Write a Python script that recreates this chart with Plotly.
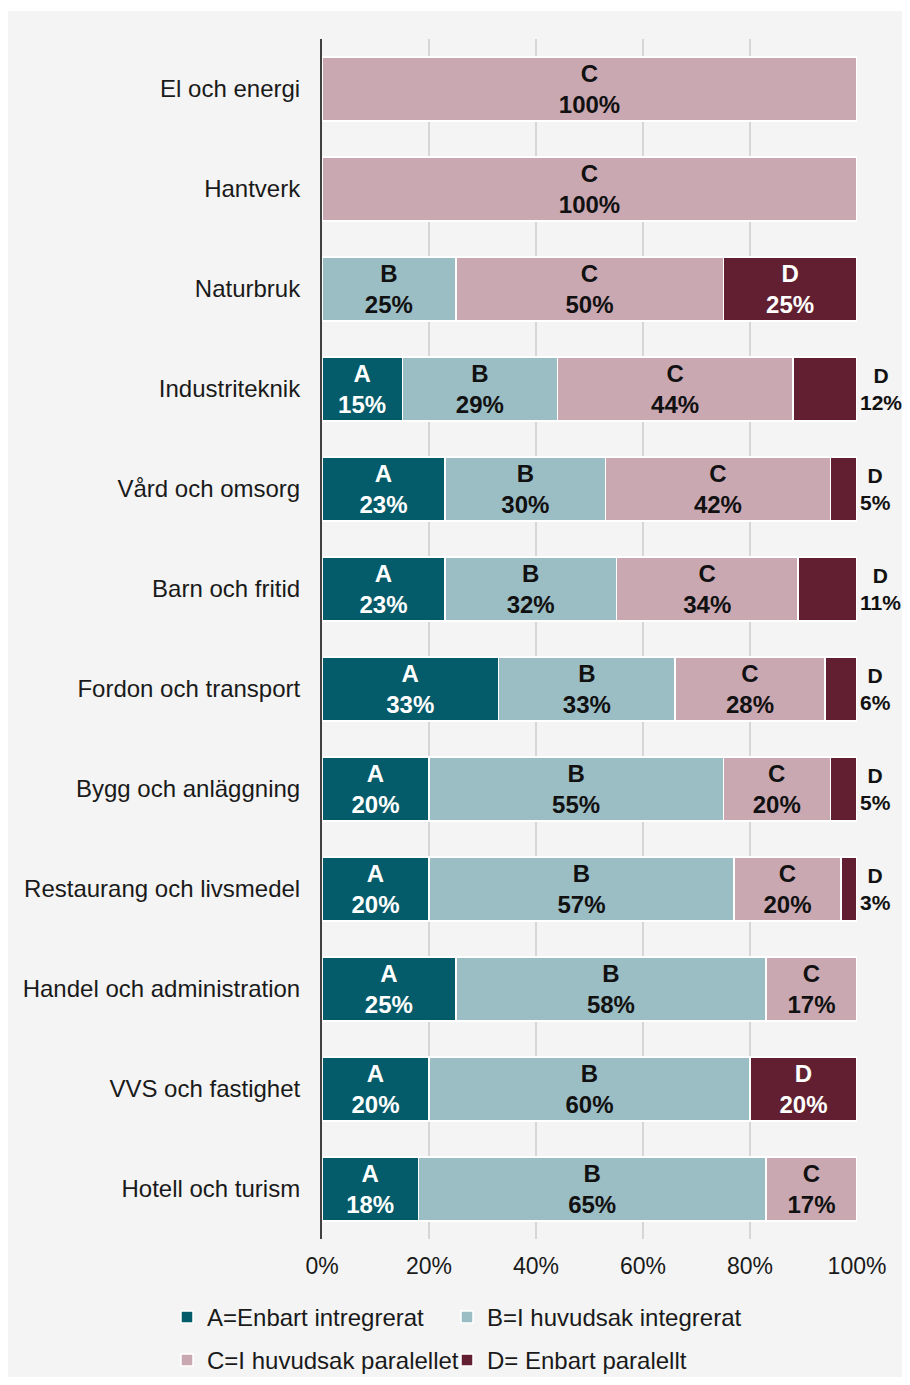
import plotly.graph_objects as go

# Data
categories = [
    'El och energi', 'Hantverk', 'Naturbruk', 'Industriteknik', 'Vård och omsorg',
    'Barn och fritid', 'Fordon och transport', 'Bygg och anläggning',
    'Restaurang och livsmedel', 'Handel och administration', 'VVS och fastighet',
    'Hotell och turism'
]
a_vals = [0, 0, 0, 15, 23, 23, 33, 20, 20, 25, 20, 18]
b_vals = [0, 0, 25, 29, 30, 32, 33, 55, 57, 58, 60, 65]
c_vals = [100, 100, 50, 44, 42, 34, 28, 20, 20, 17, 0, 17]
d_vals = [0, 0, 25, 12, 5, 11, 6, 5, 3, 0, 20, 0]

series_names = [
    'A=Enbart intregrerat', 'B=I huvudsak integrerat',
    'C=I huvudsak paralellet', 'D= Enbart paralellt'
]
letters = ['A', 'B', 'C', 'D']
tick_vals = [0, 20, 40, 60, 80, 100]
tick_text = ['0%', '20%', '40%', '60%', '80%', '100%']

colors = ['#045b6a', '#9bbdc4', '#caa8b1', '#611f31']
text_colors = ['white', '#111111', '#111111', 'white']
legend_ids = ['legend', 'legend2', 'legend3', 'legend4']

FONT = 'Liberation Sans, Arial, sans-serif'

# figure geometry (page adds an 8px body margin on every side)
W, H = 894, 1369
L, T, PW, PH = 314, 31, 535, 1200
BOT = T + PH


def px_x(px):
    return (px - L) / PW


def px_y(py):
    return (BOT - py) / PH


fig = go.Figure()
for vals, name, letter, col, tcol, lg in zip(
        [a_vals, b_vals, c_vals, d_vals], series_names, letters, colors,
        text_colors, legend_ids):
    labels = [f'<b>{letter}<br>{v}%</b>' if v else '' for v in vals]
    if letter == 'D':
        # small D shares are labelled outside the bar end
        pos = ['inside' if v >= 20 else 'outside' for v in vals]
    else:
        pos = 'inside'
    fig.add_trace(go.Bar(
        y=categories, x=vals, name=name, orientation='h', legend=lg,
        marker=dict(color=col, line=dict(color='white', width=1.5)),
        text=labels, textposition=pos, insidetextanchor='middle',
        insidetextfont=dict(color=tcol, size=24, family=FONT),
        outsidetextfont=dict(color='#111111', size=21, family=FONT),
        constraintext='none',
        textangle=0, cliponaxis=False, hoverinfo='skip'
    ))

legend_common = dict(
    orientation='h', xanchor='left', yanchor='top',
    font=dict(size=24, family=FONT, color='#1a1a1a'),
    bgcolor='rgba(0,0,0,0)', itemclick=False
)

fig.update_layout(
    barmode='stack',
    bargap=0.36,
    width=W, height=H,
    margin=dict(l=L, r=W - L - PW, t=T, b=H - BOT, autoexpand=False),
    paper_bgcolor='white',
    plot_bgcolor='rgba(0,0,0,0)',
    font=dict(family=FONT, size=22, color='#1a1a1a'),
    showlegend=True,
    legend=dict(x=px_x(159), y=px_y(1287), **legend_common),
    legend2=dict(x=px_x(439), y=px_y(1287), **legend_common),
    legend3=dict(x=px_x(159), y=px_y(1330), **legend_common),
    legend4=dict(x=px_x(439), y=px_y(1330), **legend_common),
    shapes=[dict(
        type='rect', xref='paper', yref='paper', layer='below',
        x0=px_x(0), x1=px_x(W), y0=px_y(H), y1=px_y(3),
        fillcolor='#f4f4f4', line=dict(width=0)
    )]
)

fig.update_xaxes(
    range=[0, 100], tickvals=tick_vals, ticktext=tick_text,
    showgrid=True, gridcolor='#d6d6d6', gridwidth=1.5,
    zeroline=False, showline=False, ticks='', ticklabelstandoff=11,
    tickfont=dict(size=23, family=FONT, color='#1a1a1a'),
    fixedrange=True
)
fig.update_yaxes(
    autorange='reversed', showline=True, linecolor='#404040', linewidth=2,
    showgrid=False, ticks='', ticklabelstandoff=15,
    tickfont=dict(size=24, family=FONT, color='#1a1a1a'),
    fixedrange=True
)

fig.write_html('out.html')
